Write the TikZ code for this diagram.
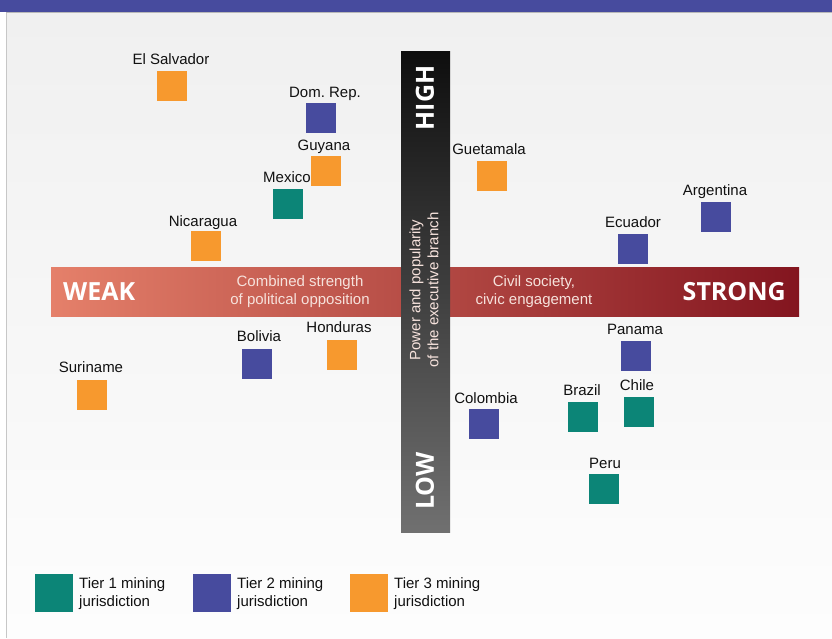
\documentclass[tikz,border=0pt]{standalone}
\usepackage{fontspec}
\setmainfont{Liberation Sans}
\newfontfamily\boldsans{Open Sans}
\frenchspacing
\definecolor{tierA}{HTML}{0C8577}
\definecolor{tierB}{HTML}{474B9E}
\definecolor{tierC}{HTML}{F7992E}
\definecolor{topband}{HTML}{474B9E}
\definecolor{panelTop}{HTML}{F0F0F0}
\definecolor{panelBot}{HTML}{FDFDFD}
\definecolor{hbarL}{HTML}{E5806A}
\definecolor{hbarM}{HTML}{B44A3E}
\definecolor{hbarR}{HTML}{83151F}
\definecolor{vbarT}{HTML}{0E0E0E}
\definecolor{vbarB}{HTML}{707070}
\definecolor{labelInk}{HTML}{111111}
\definecolor{barInk}{HTML}{F6E2DC}
\begin{document}
\begin{tikzpicture}[x=1pt,y=-1pt,
  sq/.style={minimum size=30pt,inner sep=0pt,outer sep=0pt,draw=none},
  lgsq/.style={minimum size=38pt,inner sep=0pt,outer sep=0pt,draw=none},
  lbl/.style={anchor=base,inner sep=0pt,text=labelInk,font=\fontsize{15}{18}\selectfont},
  lgtxt/.style={anchor=north west,inner sep=0pt,align=left,text=labelInk,font=\fontsize{15}{18}\selectfont},
  bigword/.style={inner sep=0pt,text=white,font=\boldsans\bfseries\fontsize{25}{30}\selectfont},
  bartxt/.style={inner sep=0pt,align=center,text=barInk,font=\fontsize{15}{18}\selectfont},
]
\useasboundingbox (0,0) rectangle (832,638);
% background
\fill[white] (0,0) rectangle (832,638);
\shade[top color=panelTop,bottom color=panelBot] (7,13) rectangle (832,638);
\draw[line width=1.5pt,color=black!22] (6.5,13) -- (6.5,638);
\fill[topband] (0,0) rectangle (832,12);
\draw[line width=1.5pt,color=black!28] (6,12.5) -- (832,12.5);

% horizontal bar
\node[minimum width=748pt,minimum height=49pt,inner sep=0pt,outer sep=0pt,
  left color=hbarL,middle color=hbarM,right color=hbarR] (hbar) at (425,291.5) {};
% vertical bar
\node[minimum width=49pt,minimum height=481pt,inner sep=0pt,outer sep=0pt,
  top color=vbarT,bottom color=vbarB] (vbar) at (425.5,291.5) {};

\node[bigword,anchor=base west] (weak) at (63,300) {WEAK};
\node[bigword,anchor=base east] (strong) at (786,300) {STRONG};
\node[bartxt] (opp) at (300,292) {Combined strength\\of political opposition};
\node[bartxt] (civ) at (534,292) {Civil society,\\civic engagement};
\node[bigword,rotate=90] (high) at (425,98) {HIGH};
\node[bigword,rotate=90] (low) at (425,481) {LOW};
\node[bartxt,rotate=90] (power) at (424,290) {Power and popularity\\of the executive branch};

% countries
\node[sq,fill=tierC] (elsalvador) at (172,86) {};
\node[lbl] (elsalvadorL) at (171,64) {El Salvador};
\node[sq,fill=tierB] (domrep) at (321,118) {};
\node[lbl] (domrepL) at (325,97) {Dom. Rep.};
\node[sq,fill=tierC] (guyana) at (326,171) {};
\node[lbl] (guyanaL) at (324,150) {Guyana};
\node[sq,fill=tierA] (mexico) at (288,204) {};
\node[lbl] (mexicoL) at (287,182) {Mexico};
\node[sq,fill=tierC] (nicaragua) at (206,246) {};
\node[lbl] (nicaraguaL) at (203,226) {Nicaragua};
\node[sq,fill=tierC] (guetamala) at (492,176) {};
\node[lbl] (guetamalaL) at (489,154) {Guetamala};
\node[sq,fill=tierB] (argentina) at (716,217) {};
\node[lbl] (argentinaL) at (715,195) {Argentina};
\node[sq,fill=tierB] (ecuador) at (633,249) {};
\node[lbl] (ecuadorL) at (633,227) {Ecuador};
\node[sq,fill=tierC] (suriname) at (92,395) {};
\node[lbl] (surinameL) at (91,372) {Suriname};
\node[sq,fill=tierB] (bolivia) at (257,364) {};
\node[lbl] (boliviaL) at (259,341) {Bolivia};
\node[sq,fill=tierC] (honduras) at (342,355) {};
\node[lbl] (hondurasL) at (339,332) {Honduras};
\node[sq,fill=tierB] (panama) at (636,356) {};
\node[lbl] (panamaL) at (635,334) {Panama};
\node[sq,fill=tierA] (chile) at (639,412) {};
\node[lbl] (chileL) at (637,390) {Chile};
\node[sq,fill=tierA] (brazil) at (583,417) {};
\node[lbl] (brazilL) at (582,395) {Brazil};
\node[sq,fill=tierB] (colombia) at (484,424) {};
\node[lbl] (colombiaL) at (486,403) {Colombia};
\node[sq,fill=tierA] (peru) at (604,489) {};
\node[lbl] (peruL) at (605,468) {Peru};

% legend
\node[lgsq,fill=tierA] (lg1) at (54,593) {};
\node[lgtxt] (lg1t) at (79,577) {Tier 1 mining\\jurisdiction};
\node[lgsq,fill=tierB] (lg2) at (212,593) {};
\node[lgtxt] (lg2t) at (237,577) {Tier 2 mining\\jurisdiction};
\node[lgsq,fill=tierC] (lg3) at (369,593) {};
\node[lgtxt] (lg3t) at (394,577) {Tier 3 mining\\jurisdiction};
\end{tikzpicture}
\end{document}
